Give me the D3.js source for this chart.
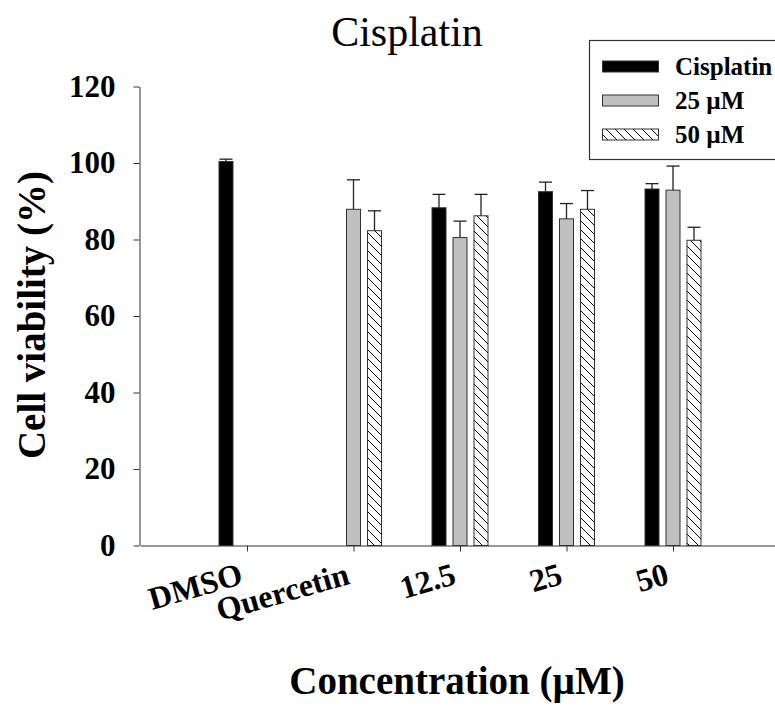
<!DOCTYPE html>
<html>
<head>
<meta charset="utf-8">
<script src="https://cdn.jsdelivr.net/npm/d3@7"></script>
<style>
  body { margin: 0; background: #fff; }
  svg { display: block; font-family: "Liberation Serif", "Times New Roman", serif; }
</style>
</head>
<body>
<svg id="chart" width="775" height="707"></svg>
<script>
// values
const categories = ["DMSO", "Quercetin", "12.5", "25", "50"];
const series = ["Cisplatin", "25 µM", "50 µM"];
const cisplatinMean = [100.4, null, 88.3, 92.5, 93.2];
const cisplatinErr = [0.6, null, 3.5, 2.5, 1.4];
const q25Mean = [null, 87.9, 80.5, 85.4, 92.9];
const q25Err = [null, 7.7, 4.3, 4.0, 6.3];
const q50Mean = [null, 82.3, 86.2, 87.9, 79.8];
const q50Err = [null, 5.2, 5.6, 4.9, 3.4];
const yTicks = [0, 20, 40, 60, 80, 100, 120];

const svg = d3.select("#chart");
const axisColor = "#333";

// x: category i sits at slot boundary i+1
const x = d3.scaleLinear().domain([0, 6]).range([140.5, 779.5]);
const y = d3.scaleLinear().domain([0, 120]).range([545.5, 86.5]);
const sub = d3.scalePoint().domain(series).range([-21, 21]);
const barW = 14;

const defs = svg.append("defs");
const pat = defs.append("pattern")
    .attr("id", "hatch")
    .attr("patternUnits", "userSpaceOnUse")
    .attr("width", 9)
    .attr("height", 9);
pat.append("rect").attr("width", 9).attr("height", 9).attr("fill", "#fff");
pat.append("path")
    .attr("d", "M0,0L9,9M-1,8L1,10M8,-1L10,1")
    .attr("stroke", "#000")
    .attr("stroke-width", 1);

const fills = {"Cisplatin": "#000", "25 µM": "#c0c0c0", "50 µM": "url(#hatch)"};
const means = {"Cisplatin": cisplatinMean, "25 µM": q25Mean, "50 µM": q50Mean};
const errs = {"Cisplatin": cisplatinErr, "25 µM": q25Err, "50 µM": q50Err};

let bars = [];
series.forEach(s => {
    categories.forEach((c, i) => {
        if (means[s][i] != null) {
            bars.push({cat: c, idx: i, s: s, v: means[s][i], e: errs[s][i]});
        }
    });
});

// bars
svg.append("g").selectAll("rect")
    .data(bars)
    .join("rect")
    .attr("x", d => x(d.idx + 1) + sub(d.s) - barW / 2)
    .attr("y", d => y(d.v))
    .attr("width", barW)
    .attr("height", d => y(0) - y(d.v))
    .attr("fill", d => fills[d.s])
    .attr("stroke", axisColor)
    .attr("stroke-width", 1);

// error bars (upper only)
const eb = svg.append("g").attr("stroke", "#222").attr("stroke-width", 1.3);
eb.selectAll("line.v")
    .data(bars)
    .join("line")
    .attr("class", "v")
    .attr("x1", d => x(d.idx + 1) + sub(d.s))
    .attr("x2", d => x(d.idx + 1) + sub(d.s))
    .attr("y1", d => y(d.v))
    .attr("y2", d => y(d.v + d.e));
eb.selectAll("line.cap")
    .data(bars)
    .join("line")
    .attr("class", "cap")
    .attr("x1", d => x(d.idx + 1) + sub(d.s) - 6.5)
    .attr("x2", d => x(d.idx + 1) + sub(d.s) + 6.5)
    .attr("y1", d => y(d.v + d.e))
    .attr("y2", d => y(d.v + d.e));

// y axis
const yAxis = svg.append("g")
    .attr("transform", "translate(139.5,0)")
    .call(d3.axisLeft(y).tickValues(yTicks).tickSize(6).tickPadding(18).tickSizeOuter(0));
yAxis.select(".domain").attr("stroke", axisColor);
yAxis.selectAll(".tick line").attr("stroke", axisColor);
yAxis.selectAll("text")
    .attr("fill", "#000")
    .attr("font-family", "Liberation Serif")
    .attr("font-weight", "bold")
    .attr("font-size", 31);

// x axis
const xAxis = svg.append("g")
    .attr("transform", "translate(0,545.5)")
    .call(d3.axisBottom(x).tickValues([1, 2, 3, 4, 5]).tickSize(6).tickSizeOuter(0)
        .tickFormat(d => categories[d - 1]));
xAxis.select(".domain").attr("stroke", axisColor);
xAxis.selectAll(".tick line").attr("stroke", axisColor);
xAxis.selectAll("text")
    .attr("fill", "#000")
    .attr("font-family", "Liberation Serif")
    .attr("font-weight", "bold")
    .attr("font-size", 32)
    .attr("text-anchor", "end")
    .attr("y", 0)
    .attr("dy", 0)
    .attr("transform", "translate(-3,38) rotate(-16)");

// title
svg.append("text")
    .attr("x", 407)
    .attr("y", 46)
    .attr("text-anchor", "middle")
    .attr("font-size", 42)
    .text("Cisplatin");

// axis titles
svg.append("text")
    .attr("transform", "translate(45,315) rotate(-90)")
    .attr("text-anchor", "middle")
    .attr("font-weight", "bold")
    .attr("font-size", 39)
    .text("Cell viability (%)");

svg.append("text")
    .attr("x", 457)
    .attr("y", 694)
    .attr("text-anchor", "middle")
    .attr("font-weight", "bold")
    .attr("font-size", 39)
    .text("Concentration (µM)");

// legend
const lg = svg.append("g");
lg.append("rect")
    .attr("x", 589.5).attr("y", 40.5)
    .attr("width", 220).attr("height", 119)
    .attr("fill", "#fff")
    .attr("stroke", axisColor)
    .attr("stroke-width", 1.2);
const legendY = d3.scalePoint().domain(series).range([66.5, 134.5]);
lg.selectAll("rect.sw")
    .data(series)
    .join("rect")
    .attr("class", "sw")
    .attr("x", 602.5)
    .attr("y", d => legendY(d) - 5.5)
    .attr("width", 56)
    .attr("height", 11)
    .attr("fill", d => fills[d])
    .attr("stroke", axisColor);
lg.selectAll("text")
    .data(series)
    .join("text")
    .attr("x", 675)
    .attr("y", d => legendY(d) + 8)
    .attr("font-weight", "bold")
    .attr("font-size", 25)
    .text(d => d);
</script>
</body>
</html>
